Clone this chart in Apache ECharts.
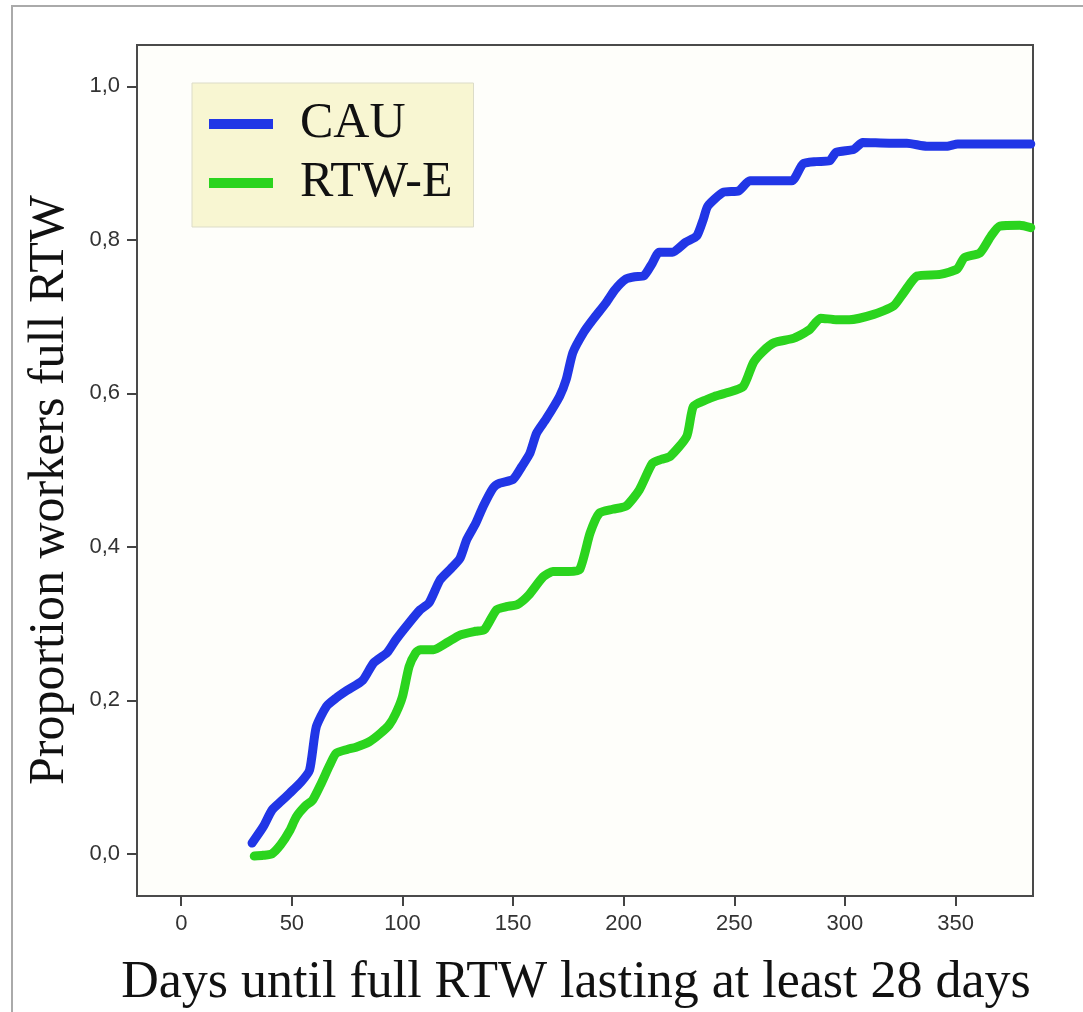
<!DOCTYPE html>
<html lang="en">
<head>
  <meta charset="UTF-8" />
  <title>Days until full RTW</title>
  <script src="https://cdn.jsdelivr.net/npm/echarts@6.0.0/dist/echarts.min.js"></script>
  <style>
    html, body { margin: 0; padding: 0; background: #fff; }
    #chart { width: 1083px; height: 1012px; }
  </style>
</head>
<body>
  <div id="chart"></div>
  <script>
    // tick values
    const xTicks = [0, 50, 100, 150, 200, 250, 300, 350];
    const yTicks = [0, 0.2, 0.4, 0.6, 0.8, 1.0];

    // CAU curve
    const cauDays = [32, 37, 41, 45, 49, 54, 58, 61, 65.6, 70, 75, 82, 87, 93, 97, 103, 108, 112, 117, 122,
      126, 129, 133, 136.5, 141, 144, 150, 154, 157.6, 160.6, 165, 171, 174, 177, 182, 186, 192, 196, 201, 205,
      209, 213, 216, 222, 228, 233, 236, 238, 245, 252, 257, 266, 276, 281, 287, 293, 296, 304, 308, 320,
      328, 337, 346, 351, 365, 384];
    const cauValues = [0.014, 0.035, 0.057, 0.068, 0.079, 0.093, 0.109, 0.165, 0.192, 0.203, 0.213, 0.226, 0.249, 0.262, 0.279, 0.301, 0.318, 0.327, 0.357, 0.372,
      0.385, 0.409, 0.43, 0.453, 0.477, 0.483, 0.488, 0.505, 0.522, 0.548, 0.567, 0.596, 0.618, 0.653, 0.68, 0.696, 0.718, 0.735, 0.749, 0.752,
      0.753, 0.77, 0.784, 0.784, 0.797, 0.805, 0.827, 0.844, 0.862, 0.864, 0.877, 0.877, 0.877, 0.899, 0.902, 0.903, 0.914, 0.918, 0.927, 0.926,
      0.926, 0.922, 0.922, 0.925, 0.925, 0.925];

    // RTW-E curve
    const rtwDays = [33, 37, 41, 45, 49, 52, 56, 59.4, 63, 67, 70, 75, 79, 85, 90, 94, 97, 100, 103, 106,
      108, 114, 120, 126, 133, 137, 142.5, 147, 152, 157, 163.6, 168, 175, 180, 184.8, 189, 195, 201, 207, 213,
      217, 221, 228.5, 231.5, 237.6, 241, 247, 254, 258.6, 263, 268, 277, 284, 289, 296, 302, 313, 322, 326.5, 332.6,
      343, 350.7, 354, 361, 366, 370, 379, 384];
    const rtwValues = [-0.003, -0.002, 0.0, 0.012, 0.03, 0.048, 0.062, 0.07, 0.09, 0.115, 0.131, 0.136, 0.139, 0.146, 0.157, 0.168, 0.183, 0.205, 0.244, 0.262,
      0.266, 0.266, 0.275, 0.285, 0.29, 0.292, 0.318, 0.322, 0.325, 0.337, 0.361, 0.368, 0.368, 0.37, 0.418, 0.444, 0.449, 0.453, 0.474, 0.509,
      0.514, 0.518, 0.544, 0.583, 0.592, 0.596, 0.601, 0.609, 0.64, 0.655, 0.666, 0.672, 0.683, 0.698, 0.696, 0.696, 0.703, 0.714, 0.731, 0.753,
      0.755, 0.762, 0.777, 0.783, 0.805, 0.818, 0.819, 0.816];

    const zip = (xs, ys) => xs.map((x, i) => [x, ys[i]]);
    const serif = "'Liberation Serif', 'Times New Roman', serif";
    const sans = "'Liberation Sans', Arial, sans-serif";

    const chart = echarts.init(document.getElementById('chart'));
    chart.setOption({
      animation: false,
      backgroundColor: '#fff',
      grid: {
        left: 137, top: 45, right: 50, bottom: 116,
        show: true, backgroundColor: '#fefefa', borderColor: '#4a4a4a', borderWidth: 2
      },
      xAxis: {
        type: 'value', min: -20, max: 385,
        axisLine: { show: true, onZero: false, lineStyle: { color: '#4a4a4a', width: 2 } },
        axisTick: { show: true, customValues: xTicks, length: 10, lineStyle: { color: '#444', width: 2 } },
        axisLabel: { customValues: xTicks, margin: 17, color: '#333', fontFamily: sans, fontSize: 22 },
        splitLine: { show: false }
      },
      yAxis: {
        type: 'value', min: -0.055, max: 1.054,
        axisLine: { show: true, onZero: false, lineStyle: { color: '#4a4a4a', width: 2 } },
        axisTick: { show: true, customValues: yTicks, length: 10, lineStyle: { color: '#444', width: 2 } },
        axisLabel: {
          customValues: yTicks, margin: 17, color: '#333', fontFamily: sans, fontSize: 22,
          formatter: v => v.toFixed(1).replace('.', ',')
        },
        splitLine: { show: false }
      },
      legend: {
        orient: 'vertical', left: 192, top: 83,
        backgroundColor: '#f8f6d2', borderColor: '#dcdcc8', borderWidth: 1,
        padding: [16, 21, 19, 17],
        itemWidth: 64, itemHeight: 10, itemGap: 9, icon: 'rect',
        textStyle: { fontFamily: serif, fontSize: 50, color: '#111', lineHeight: 50, padding: [0, 0, 0, 22] },
        data: ['CAU', 'RTW-E']
      },
      graphic: [
        { type: 'polyline', shape: { points: [[12, 1012], [12, 6], [1083, 6]] }, style: { stroke: '#aaa', lineWidth: 2, fill: null } },
        { type: 'text', x: 576, y: 983, style: { text: 'Days until full RTW lasting at least 28 days', font: '52px ' + serif, fill: '#111', textAlign: 'center', textVerticalAlign: 'middle' } },
        { type: 'text', x: 50, y: 490, rotation: Math.PI / 2, style: { text: 'Proportion workers full RTW', font: '50px ' + serif, fill: '#111', textAlign: 'center', textVerticalAlign: 'middle' } }
      ],
      series: [
        {
          name: 'CAU', type: 'line', data: zip(cauDays, cauValues), showSymbol: false, smooth: 0.2,
          itemStyle: { color: '#2136e6' },
          lineStyle: { color: '#2136e6', width: 9, cap: 'round', join: 'round' }
        },
        {
          name: 'RTW-E', type: 'line', data: zip(rtwDays, rtwValues), showSymbol: false, smooth: 0.2,
          itemStyle: { color: '#2bd41e' },
          lineStyle: { color: '#2bd41e', width: 9, cap: 'round', join: 'round' }
        }
      ]
    });
  </script>
</body>
</html>
